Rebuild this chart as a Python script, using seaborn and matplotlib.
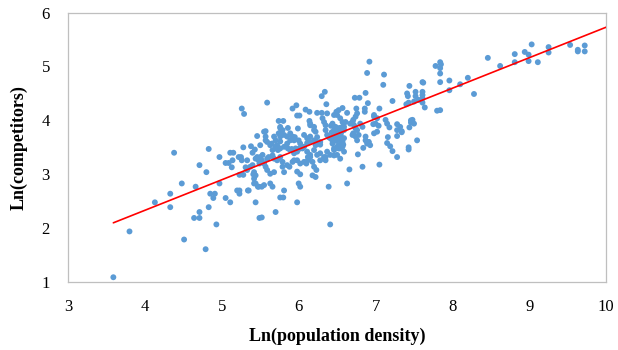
import seaborn as sns
import matplotlib.pyplot as plt
import pandas as pd

# values
ln_density = [
    3.59, 3.80, 4.13, 4.33, 4.33, 4.38, 4.48, 4.51, 4.66, 4.64, 4.71, 4.71, 4.71, 4.79, 4.80, 4.83,
    4.83, 4.85, 4.91, 4.89, 4.93, 4.97, 4.97, 5.05, 5.11, 5.05, 5.09, 5.11, 5.15, 5.13, 5.14, 5.20,
    5.23, 5.23, 5.22, 5.25, 5.26, 5.23, 5.28, 5.26, 5.29, 5.28, 5.31, 5.34, 5.38, 5.40, 5.43, 5.40,
    5.42, 5.41, 5.42, 5.44, 5.46, 5.44, 5.47, 5.49, 5.49,
    5.59, 5.92, 5.97, 5.98, 6.01, 6.09, 6.14, 6.24, 5.74, 5.80, 5.76, 5.86, 5.99, 5.57, 5.76, 5.76,
    5.76, 6.22, 5.57, 5.65, 5.70, 5.73, 5.89, 5.95, 6.00, 6.02, 5.86, 5.91, 5.96, 6.00, 6.05, 6.11,
    6.15, 6.22, 5.33, 5.37, 5.33, 5.46, 5.50, 5.48, 5.42, 5.44, 5.52, 5.55, 5.57, 5.61, 5.66, 5.68,
    5.72, 5.76, 5.79, 5.59, 5.63, 5.68, 5.79, 5.81, 5.85, 5.92, 5.98, 6.02, 5.88, 5.98, 6.02, 6.12,
    6.15, 6.12, 6.10, 6.20, 6.23, 6.18, 6.22, 5.44, 5.48, 5.52, 5.55, 5.63, 5.66, 5.35, 5.81, 6.00,
    6.02, 5.76, 5.80, 5.98, 5.52, 5.70,
    6.92, 6.89, 7.11, 7.10, 7.44, 7.41, 7.42, 7.52, 7.52, 7.43, 7.50, 7.56, 6.34, 6.30, 6.36, 6.30,
    6.37, 6.46, 6.49, 6.52, 6.57, 6.63, 6.73, 6.79, 6.87, 6.90, 6.86, 6.86, 6.75, 6.76, 7.05, 6.98,
    7.02, 7.18, 7.28, 7.32, 7.48, 7.50, 7.28, 7.34, 7.16, 7.28, 7.54, 7.43, 7.43, 7.15, 7.19, 7.22,
    7.28, 7.05, 6.83, 6.66, 6.63, 6.77, 6.84, 6.87, 6.91, 6.93, 6.97, 7.04, 6.39, 6.41, 6.54, 6.46,
    6.35, 6.33, 6.70, 6.72, 6.74, 6.70, 6.74, 6.76, 6.59, 6.57, 6.52, 6.54, 6.24, 6.28, 6.22, 6.20,
    6.15, 6.35, 6.39, 6.44, 6.46, 6.50,
    6.43, 6.47, 6.50, 6.53, 6.55, 6.45, 6.49, 6.56, 6.42, 6.58,
    8.46, 8.62, 8.81, 8.81, 8.94, 8.99, 8.99, 9.03, 9.11, 9.25, 9.25, 9.53, 9.63, 9.63, 9.72, 9.72,
    7.78, 7.84, 7.85, 7.84, 7.84, 7.84, 7.96, 7.96, 8.10, 8.20, 8.28, 7.80, 7.84, 7.61, 7.61, 7.61,
    7.61, 7.64, 7.34, 7.40, 7.46, 7.46, 7.44, 7.62, 7.61, 7.22,
    6.50, 6.54, 6.14, 6.15, 6.20, 6.31, 6.33, 6.35, 6.44, 6.48, 6.46, 6.57, 6.57, 6.59, 5.76, 5.79,
    5.74, 5.81, 5.85, 5.89, 5.92, 5.94, 6.07, 6.11, 6.15, 6.20, 6.24, 6.28, 6.37, 6.41, 6.44, 6.50,
    6.54, 6.52, 6.57, 5.55, 5.57, 5.59, 5.63, 5.68, 5.70, 5.66, 5.72, 5.76, 5.81, 5.85, 5.89, 5.94,
    5.98, 6.02, 6.07, 6.11, 6.15, 6.20, 6.24, 6.28, 6.33, 6.37, 6.41, 6.46, 6.50, 6.59, 5.50, 5.53,
    5.59, 5.94, 6.07, 6.18, 6.28, 6.35,
    6.98, 7.00, 7.13, 7.15, 6.74, 6.71, 6.67, 6.61, 6.59, 6.54, 6.80, 6.83, 6.76, 6.71, 6.78, 6.87,
    6.91, 6.89, 6.98, 7.02,
]
ln_competitors = [
    1.09, 1.94, 2.48, 2.64, 2.39, 3.40, 2.83, 1.79, 2.77, 2.19, 2.19, 2.30, 3.17, 1.61, 3.04, 2.39,
    3.47, 2.64, 2.64, 2.56, 2.07, 3.32, 2.83, 2.56, 2.48, 3.21, 3.21, 3.40, 3.40, 3.13, 3.26, 2.70,
    2.70, 2.64, 3.32, 3.32, 3.26, 2.99, 2.99, 4.22, 4.12, 3.50, 3.13, 2.70, 3.52, 3.40, 3.46, 3.17,
    3.04, 3.00, 2.83, 2.48, 3.71, 3.29, 2.77, 2.19, 3.20,
    4.33, 4.22, 4.28, 4.09, 4.09, 4.20, 4.16, 4.14, 3.99, 3.99, 3.86, 3.86, 3.85, 3.80, 3.77, 3.70,
    3.61, 3.79, 3.63, 3.57, 3.51, 3.45, 3.63, 3.69, 3.63, 3.57, 3.48, 3.47, 3.48, 3.47, 3.48, 3.58,
    3.60, 3.60, 3.26, 3.14, 3.08, 3.32, 3.32, 3.26, 2.92, 2.98, 3.26, 3.20, 3.14, 3.32, 3.35, 3.29,
    3.26, 3.32, 3.23, 3.08, 3.01, 3.04, 3.14, 3.04, 3.17, 3.23, 3.26, 3.20, 3.14, 3.05, 3.00, 3.32,
    3.32, 3.26, 3.20, 3.14, 3.08, 2.98, 2.95, 2.83, 2.77, 2.77, 2.80, 2.83, 2.77, 2.70, 2.70, 2.83,
    2.77, 2.57, 2.57, 2.48, 2.20, 2.30,
    5.09, 4.88, 4.85, 4.66, 4.64, 4.50, 4.45, 4.53, 4.45, 4.33, 4.35, 4.38, 4.53, 4.45, 4.30, 4.14,
    4.13, 4.10, 4.16, 4.19, 4.23, 4.14, 4.42, 4.42, 4.51, 4.32, 4.22, 4.16, 4.22, 4.13, 4.22, 4.07,
    4.04, 3.87, 3.93, 3.88, 4.01, 3.94, 3.82, 3.80, 3.69, 3.71, 3.63, 3.50, 3.46, 3.58, 3.52, 3.43,
    3.32, 3.18, 3.14, 3.09, 2.83, 3.37, 3.49, 3.63, 3.60, 3.54, 3.93, 3.90, 2.77, 2.07, 3.29, 3.35,
    3.32, 3.29, 3.97, 3.91, 3.85, 3.73, 3.70, 3.63, 3.67, 3.60, 3.48, 3.48, 3.69, 3.55, 3.54, 3.82,
    3.91, 3.82, 3.69, 3.62, 3.48, 3.51,
    3.78, 3.75, 3.80, 3.86, 3.76, 3.70, 3.62, 3.68, 3.90, 3.55,
    5.16, 5.01, 5.23, 5.08, 5.27, 5.22, 5.10, 5.41, 5.08, 5.36, 5.26, 5.40, 5.31, 5.28, 5.39, 5.28,
    5.01, 5.08, 5.04, 4.97, 4.87, 4.71, 4.74, 4.56, 4.67, 4.79, 4.49, 4.18, 4.19, 4.71, 4.53, 4.41,
    4.33, 4.24, 3.78, 4.30, 4.00, 3.96, 3.87, 4.70, 4.47, 4.36,
    4.10, 4.04, 3.99, 3.94, 3.88, 4.04, 3.97, 3.91, 3.94, 3.88, 3.82, 3.97, 3.88, 3.82, 3.88, 3.82,
    3.76, 3.73, 3.70, 3.76, 3.70, 3.63, 3.73, 3.67, 3.70, 3.63, 3.57, 3.60, 3.73, 3.67, 3.57, 3.70,
    3.63, 3.54, 3.51, 3.79, 3.70, 3.60, 3.54, 3.70, 3.63, 3.45, 3.54, 3.48, 3.51, 3.57, 3.45, 3.39,
    3.42, 3.48, 3.51, 3.42, 3.36, 3.45, 3.36, 3.39, 3.32, 3.42, 3.36, 3.45, 3.36, 3.42, 3.54, 3.36,
    3.29, 3.26, 3.23, 3.23, 3.26, 3.26,
    4.10, 3.94, 4.01, 3.94, 4.07, 4.01, 3.94, 3.97, 3.88, 3.79, 3.94, 3.88, 3.82, 3.76, 3.73, 3.70,
    3.60, 3.57, 3.76, 3.79,
]
trend_x = [3.59, 10.0]
trend_y = [2.10, 5.73]

df = pd.DataFrame({"density": ln_density, "competitors": ln_competitors})
trend = pd.DataFrame({"density": trend_x, "competitors": trend_y})

sns.set_style("white")
plt.rcParams["font.family"] = ["Liberation Serif", "DejaVu Serif"]

fig = plt.figure(figsize=(6.18, 3.5), dpi=100)
ax = fig.add_axes([0.110, 0.194, 0.871, 0.770])

sns.scatterplot(data=df, x="density", y="competitors", ax=ax, color="#5b9bd5",
                s=18, linewidth=0, edgecolor="none", zorder=2)
sns.lineplot(data=trend, x="density", y="competitors", ax=ax, color="#ff0000",
             linewidth=1.2, zorder=3)

ax.set_xlim(3, 10)
ax.set_ylim(1, 6)
ax.set_xticks(range(3, 11))
ax.set_yticks(range(1, 7))
ax.tick_params(axis="x", length=0, pad=12, labelsize=12, labelcolor="black")
ax.tick_params(axis="y", length=0, pad=13, labelsize=12, labelcolor="black")
for sp in ax.spines.values():
    sp.set_color("#bfbfbf")
    sp.set_linewidth(0.9)

ax.set_xlabel("Ln(population density)", fontsize=13, fontweight="bold",
              color="black", labelpad=9)
ax.set_ylabel("Ln(competitors)", fontsize=13, fontweight="bold",
              color="black", labelpad=10)

fig.savefig("out.png", dpi=100)
